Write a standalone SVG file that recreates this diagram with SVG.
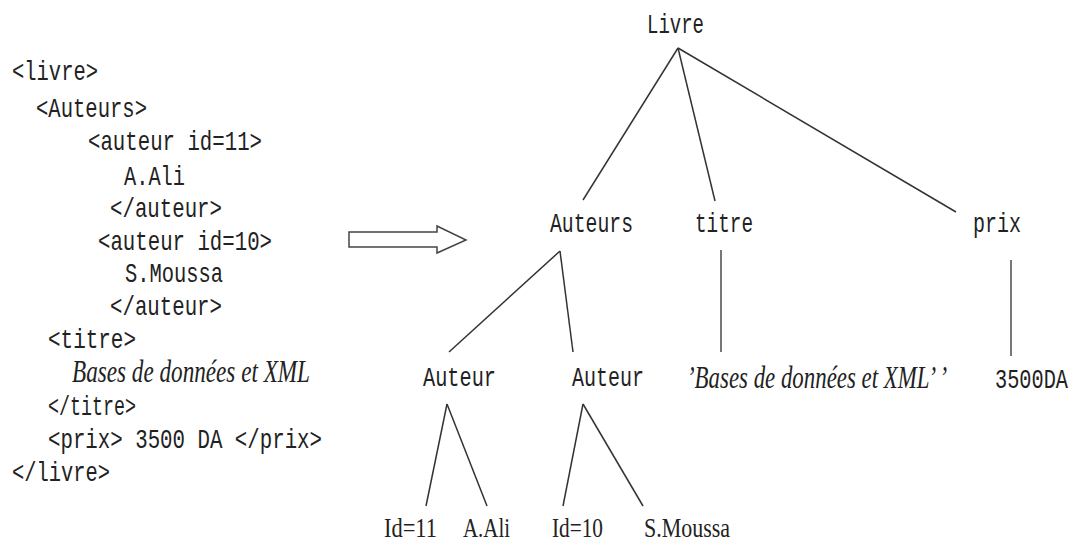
<svg xmlns="http://www.w3.org/2000/svg" width="1081" height="542" viewBox="0 0 1081 542">
<style>
.m{font-family:"Liberation Mono","Courier New",monospace;font-size:28px;fill:#222}
.s{font-family:"Liberation Serif","Times New Roman",serif;font-size:27px;fill:#222}
.i{font-family:"Liberation Serif","Times New Roman",serif;font-style:italic;font-size:31px;fill:#222}
.e{stroke:#333;stroke-width:1.5;fill:none}
.v{stroke:#777;stroke-width:2;fill:none}
</style>
<rect width="1081" height="542" fill="#fff"/>
<g id="code">
<text class="m" x="12" y="80" textLength="86" lengthAdjust="spacingAndGlyphs">&lt;livre&gt;</text>
<text class="m" x="36" y="117" textLength="111" lengthAdjust="spacingAndGlyphs">&lt;Auteurs&gt;</text>
<text class="m" x="88" y="150" textLength="174" lengthAdjust="spacingAndGlyphs">&lt;auteur id=11&gt;</text>
<text class="m" x="124" y="185" textLength="61" lengthAdjust="spacingAndGlyphs">A.Ali</text>
<text class="m" x="110" y="217" textLength="112" lengthAdjust="spacingAndGlyphs">&lt;/auteur&gt;</text>
<text class="m" x="98" y="250" textLength="174" lengthAdjust="spacingAndGlyphs">&lt;auteur id=10&gt;</text>
<text class="m" x="125" y="282" textLength="98" lengthAdjust="spacingAndGlyphs">S.Moussa</text>
<text class="m" x="110" y="315" textLength="112" lengthAdjust="spacingAndGlyphs">&lt;/auteur&gt;</text>
<text class="m" x="48" y="348" textLength="88" lengthAdjust="spacingAndGlyphs">&lt;titre&gt;</text>
<text class="i" x="72" y="382" textLength="238" lengthAdjust="spacingAndGlyphs">Bases de données et XML</text>
<text class="m" x="48" y="415" textLength="88" lengthAdjust="spacingAndGlyphs">&lt;/titre&gt;</text>
<text class="m" x="48" y="448" textLength="274" lengthAdjust="spacingAndGlyphs">&lt;prix&gt; 3500 DA &lt;/prix&gt;</text>
<text class="m" x="12" y="481" textLength="98" lengthAdjust="spacingAndGlyphs">&lt;/livre&gt;</text>
</g>
<g id="arrow">
<path d="M349,232 H437 V226 L466,240 L437,253 V247 H349 Z" fill="#fff" stroke="#444" stroke-width="1.5"/>
</g>
<g id="connectors">
<line class="e" x1="678" y1="48" x2="583" y2="200"/>
<line class="e" x1="678" y1="48" x2="715" y2="201"/>
<line class="e" x1="678" y1="48" x2="956" y2="212"/>
<line class="e" x1="560" y1="251" x2="449" y2="352"/>
<line class="e" x1="560" y1="251" x2="573" y2="352"/>
<line class="v" x1="721" y1="250" x2="721" y2="352"/>
<line class="v" x1="1011" y1="260" x2="1011" y2="356"/>
<line class="e" x1="447" y1="404" x2="426" y2="506"/>
<line class="e" x1="447" y1="404" x2="487" y2="506"/>
<line class="e" x1="583" y1="404" x2="563" y2="506"/>
<line class="e" x1="583" y1="404" x2="643" y2="506"/>
</g>
<g id="n-livre"><text class="m" x="647" y="33" textLength="57" lengthAdjust="spacingAndGlyphs">Livre</text></g>
<g id="n-auteurs"><text class="m" x="550" y="232" textLength="83" lengthAdjust="spacingAndGlyphs">Auteurs</text></g>
<g id="n-titre"><text class="m" x="695" y="232" textLength="58" lengthAdjust="spacingAndGlyphs">titre</text></g>
<g id="n-prix"><text class="m" x="973" y="232" textLength="48" lengthAdjust="spacingAndGlyphs">prix</text></g>
<g id="n-auteur1"><text class="m" x="423" y="386" textLength="73" lengthAdjust="spacingAndGlyphs">Auteur</text></g>
<g id="n-auteur2"><text class="m" x="572" y="386" textLength="72" lengthAdjust="spacingAndGlyphs">Auteur</text></g>
<g id="n-titreval"><text class="i" x="687" y="388" textLength="260" lengthAdjust="spacingAndGlyphs">’Bases de données et XML’ ’</text></g>
<g id="n-prixval"><text class="m" x="995" y="388" textLength="73" lengthAdjust="spacingAndGlyphs">3500DA</text></g>
<g id="n-id11"><text class="s" x="384" y="537" textLength="53" lengthAdjust="spacingAndGlyphs">Id=11</text></g>
<g id="n-aali"><text class="s" x="463" y="537" textLength="47" lengthAdjust="spacingAndGlyphs">A.Ali</text></g>
<g id="n-id10"><text class="s" x="552" y="537" textLength="51" lengthAdjust="spacingAndGlyphs">Id=10</text></g>
<g id="n-smoussa"><text class="s" x="644" y="537" textLength="86" lengthAdjust="spacingAndGlyphs">S.Moussa</text></g>
</svg>
